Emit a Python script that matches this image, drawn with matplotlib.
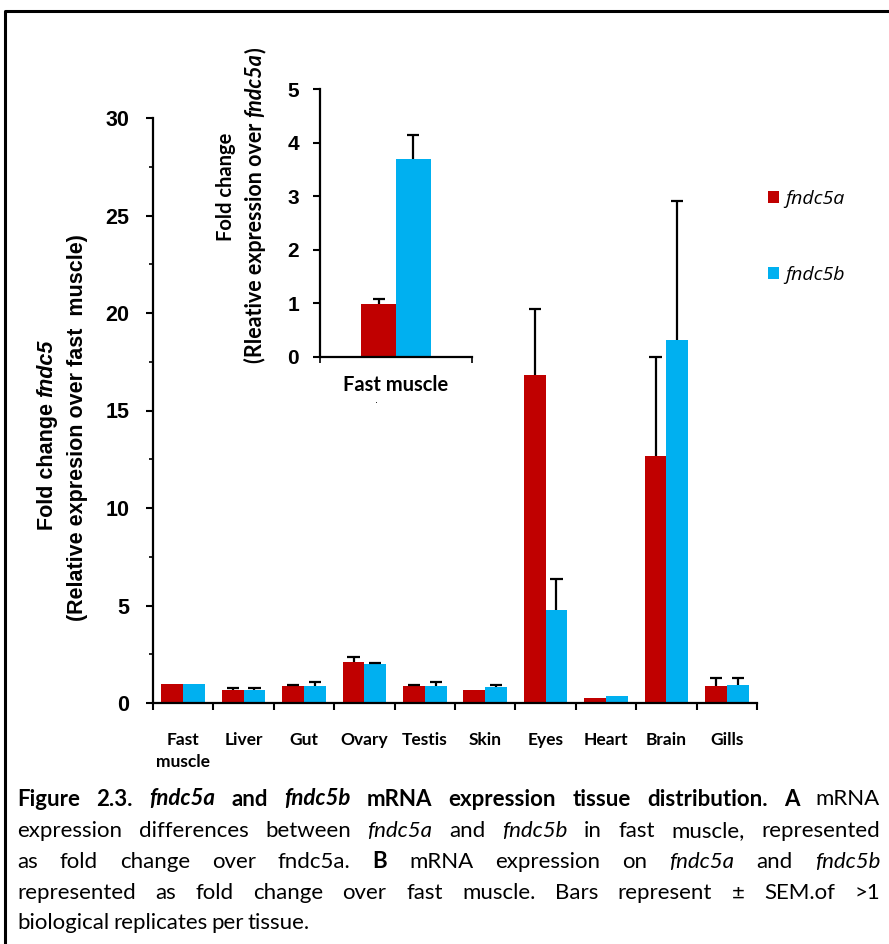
import numpy as np
import matplotlib
matplotlib.use("Agg")
import matplotlib.pyplot as plt
from matplotlib.lines import Line2D

# --- data: fold change (relative to fast muscle) per tissue ---
tissues = ["Fast\nmuscle", "Liver", "Gut", "Ovary", "Testis", "Skin",
           "Eyes", "Heart", "Brain", "Gills"]
fndc5a_mean = [0.95, 0.68, 0.89, 2.12, 0.89, 0.68, 16.8, 0.27, 12.68, 0.89]
fndc5a_sem = [0.0, 0.07, 0.03, 0.25, 0.03, 0.0, 3.4, 0.0, 5.08, 0.37]
fndc5b_mean = [0.95, 0.68, 0.89, 2.02, 0.89, 0.80, 4.78, 0.37, 18.63, 0.94]
fndc5b_sem = [0.0, 0.07, 0.17, 0.03, 0.17, 0.12, 1.58, 0.0, 7.13, 0.32]

# inset: fndc5b over fndc5a in fast muscle
inset_genes = ["fndc5a", "fndc5b"]
inset_mean = [0.98, 3.70]
inset_sem = [0.10, 0.44]

RED = "#C00000"
BLUE = "#00B0F0"
W, H = 889, 944

fig = plt.figure(figsize=(W / 100, H / 100), dpi=100)
renderer = fig.canvas.get_renderer()


def fx(px):
    return px / W


def fy(py):
    return 1 - py / H


def upper_errbars(ax, xs, means, sems, cap):
    xs = np.asarray(xs, dtype=float)
    means = np.asarray(means)
    sems = np.asarray(sems)
    keep = sems > 0
    ax.vlines(xs[keep], means[keep], means[keep] + sems[keep],
              color="black", lw=1.6, zorder=3)
    ax.hlines(means[keep] + sems[keep], xs[keep] - cap, xs[keep] + cap,
              color="black", lw=1.6, zorder=3)


def vertical_label(xc, yc, pieces, size, family):
    # rotated label built from runs with their own weight/style, centred on (xc, yc)
    texts = [fig.text(0, 0, s, rotation=90, rotation_mode="anchor",
                      ha="left", va="center", fontsize=size,
                      fontfamily=family, **st) for s, st in pieces]
    lengths = [t.get_window_extent(renderer).height for t in texts]
    cur = yc + sum(lengths) / 2
    for t, ln in zip(texts, lengths):
        t.set_position((fx(xc), fy(cur)))
        cur -= ln


REG = dict(fontweight="normal", fontstyle="normal")
BOLD = dict(fontweight="bold", fontstyle="normal")
ITAL = dict(fontweight="normal", fontstyle="italic")
BITAL = dict(fontweight="bold", fontstyle="italic")

# --- main chart ---
ax = fig.add_axes([fx(153), fy(703), fx(757 - 153), (703 - 118) / H])
x = np.arange(len(tissues))
bw = 0.36
ax.bar(x - bw / 2, fndc5a_mean, bw, color=RED, label="fndc5a", zorder=2)
ax.bar(x + bw / 2, fndc5b_mean, bw, color=BLUE, label="fndc5b", zorder=2)
upper_errbars(ax, x - bw / 2, fndc5a_mean, fndc5a_sem, 0.1)
upper_errbars(ax, x + bw / 2, fndc5b_mean, fndc5b_sem, 0.1)

ax.set_xlim(-0.5, len(tissues) - 0.5)
ax.set_ylim(0, 30)
ax.set_yticks(np.arange(0, 31, 5))
ax.set_yticks(np.arange(2.5, 30, 5), minor=True)
ax.set_xticks(x)
ax.set_xticks(np.arange(-0.5, len(tissues)), minor=True)
ax.set_xticklabels(tissues, fontfamily="Lato", fontweight="bold",
                   fontsize=12.5, linespacing=1.45)
for lab in ax.get_xticklabels():
    lab.set_verticalalignment("top")
ax.tick_params(axis="x", which="major", length=0, pad=21)
ax.tick_params(axis="x", which="minor", length=5, width=1.5, direction="out")
ax.tick_params(axis="y", which="major", length=5, width=1.5, direction="out",
               pad=12)
ax.tick_params(axis="y", which="minor", length=3, width=1.2, direction="out")
for lab in ax.get_yticklabels():
    lab.set_fontfamily("Liberation Sans")
    lab.set_fontweight("bold")
    lab.set_fontsize(15.5)
for s in ["top", "right"]:
    ax.spines[s].set_visible(False)
for s in ["left", "bottom"]:
    ax.spines[s].set_linewidth(1.6)

ax.legend(loc="upper left", bbox_to_anchor=(fx(758), fy(180)),
          bbox_transform=fig.transFigure, frameon=False,
          prop={"family": "Open Sans", "style": "italic", "size": 14},
          handlelength=0.6, handleheight=0.6, handletextpad=0.3,
          labelspacing=3.0, borderpad=0)

vertical_label(47, 435, [("Fold change ", BOLD), ("fndc5", BITAL)],
               15.5, "Liberation Sans")
vertical_label(78, 428, [("(Relative expresion over fast  muscle)", BOLD)],
               15.5, "Liberation Sans")

# --- inset: fast muscle fndc5b vs fndc5a ---
ins = fig.add_axes([fx(320), fy(356.7), fx(472 - 320), 267.4 / H])
ibw = 0.227
ix = [-ibw / 2, ibw / 2]
ins.bar(ix, inset_mean, ibw, color=[RED, BLUE], zorder=2)
upper_errbars(ins, ix, inset_mean, inset_sem, 0.04)
ins.set_xlim(-0.5, 0.5)
ins.set_ylim(0, 5)
ins.set_yticks(range(0, 6))
ins.set_xticks([0])
ins.set_xticklabels(["Fast muscle"], fontfamily="Lato", fontweight="bold",
                    fontsize=14.5)
ins.set_xticks([-0.5, 0.5], minor=True)
ins.tick_params(axis="x", which="major", length=0, pad=13)
ins.tick_params(axis="x", which="minor", length=4, width=1.2)
ins.tick_params(axis="y", length=5, width=1.5, pad=10)
for lab in ins.get_yticklabels():
    lab.set_fontfamily("Liberation Sans")
    lab.set_fontweight("bold")
    lab.set_fontsize(15)
for s in ["top", "right"]:
    ins.spines[s].set_visible(False)
for s in ["left", "bottom"]:
    ins.spines[s].set_linewidth(1.6)
ins.text(-0.13, -0.9, ".", ha="center", va="bottom", fontsize=7,
         transform=ins.transData)

vertical_label(226, 187, [("Fold change", BOLD)], 14.5, "Lato")
vertical_label(255, 205, [("(Rleative expression over ", BOLD),
                          ("fndc5a", BITAL), (")", BOLD)], 15.5, "Lato")

# --- caption, justified word by word ---
caption = [
    [("Figure", BOLD), ("2.3.", BOLD), ("fndc5a", BITAL), ("and", BOLD),
     ("fndc5b", BITAL), ("mRNA", BOLD), ("expression", BOLD),
     ("tissue", BOLD), ("distribution.", BOLD), ("A", BOLD), ("mRNA", REG)],
    [("expression", REG), ("differences", REG), ("between", REG),
     ("fndc5a", ITAL), ("and", REG), ("fndc5b", ITAL), ("in", REG),
     ("fast", REG), ("muscle,", REG), ("represented", REG)],
    [("as", REG), ("fold", REG), ("change", REG), ("over", REG),
     ("fndc5a.", REG), ("B", BOLD), ("mRNA", REG), ("expression", REG),
     ("on", REG), ("fndc5a", ITAL), ("and", REG), ("fndc5b", ITAL)],
    [("represented", REG), ("as", REG), ("fold", REG), ("change", REG),
     ("over", REG), ("fast", REG), ("muscle.", REG), ("Bars", REG),
     ("represent", REG), ("±", REG), ("SEM.of", REG), (">1", REG)],
    [("biological", REG), ("replicates", REG), ("per", REG),
     ("tissue.", REG)],
]
line_y = [799, 831, 862, 893, 923]
left_px, right_px = 17, 880

for i, (words, yy) in enumerate(zip(caption, line_y)):
    size = 16
    while True:
        texts = [fig.text(0, fy(yy), w, ha="left", va="center",
                          fontsize=size, fontfamily="Lato", **st)
                 for w, st in words]
        widths = [t.get_window_extent(renderer).width for t in texts]
        if i == len(caption) - 1:
            gap = 4.0
            break
        gap = (right_px - left_px - sum(widths)) / (len(words) - 1)
        if gap >= 5:
            break
        for t in texts:
            t.remove()
        size -= 0.25
    cur = left_px
    for t, wd in zip(texts, widths):
        t.set_x(fx(cur))
        cur += wd + gap

# frame lines (left and top edges of the boxed figure)
fig.add_artist(Line2D([fx(5), fx(5), fx(W + 5)],
                      [fy(H + 5), fy(11), fy(11)],
                      color="black", lw=2.2, transform=fig.transFigure))

fig.savefig("out.png", dpi=100)
